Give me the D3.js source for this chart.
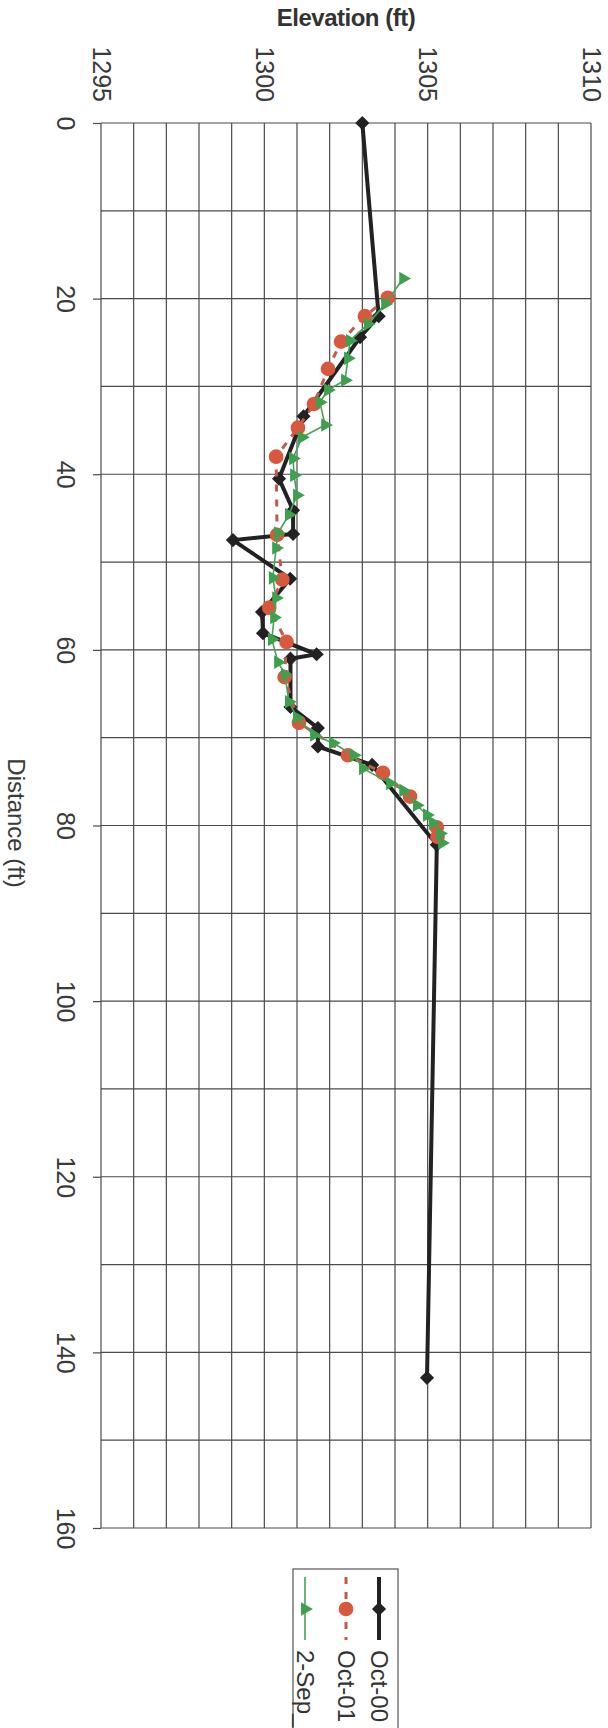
<!DOCTYPE html>
<html>
<head>
<meta charset="utf-8">
<script src="https://cdn.jsdelivr.net/npm/d3@7"></script>
<style>
  body { margin: 0; background: #fff; }
  svg { display: block; font-family: "Liberation Sans", Arial, sans-serif; }
</style>
</head>
<body>
<div id="chart"></div>
<script>
// series values (distance ft, elevation ft)
const dist00 = [0, 22, 24.4, 33.4, 40.5, 44.1, 46.8, 47.5, 51.9, 55.7, 58.1, 60.5, 61, 66.5, 68.9, 71, 73.1, 82.2, 142.9];
const elev00 = [1303.0, 1303.5, 1302.93, 1301.2, 1300.45, 1300.88, 1300.88, 1299.04, 1300.79, 1299.93, 1299.96, 1301.6, 1300.8, 1300.8, 1301.64, 1301.64, 1303.3, 1305.28, 1304.98];

const dist01 = [19.9, 22, 24.9, 28, 32, 34.7, 38, 46.9, 52, 55.2, 59.1, 63.1, 68.3, 72, 74, 76.7, 80.2, 81.3];
const elev01 = [1303.78, 1303.08, 1302.35, 1301.95, 1301.52, 1301.03, 1300.36, 1300.39, 1300.55, 1300.15, 1300.68, 1300.62, 1301.06, 1302.56, 1303.63, 1304.46, 1305.28, 1305.3];

const distSep = [17.7, 20.6, 22.9, 24.8, 26.8, 29.3, 30.4, 31.8, 34.4, 35.8, 38.2, 40.1, 42.4, 44.6, 46.7, 48.4, 51.8, 54.1, 56.3, 58.8, 61.4, 62.8, 65.9, 67.7, 69.7, 70.6, 72, 73.5, 75.2, 76, 77.7, 78.8, 79.7, 80.9, 82];
const elevSep = [1304.25, 1303.7, 1303.17, 1302.62, 1302.56, 1302.47, 1301.95, 1301.7, 1301.86, 1301.15, 1300.88, 1300.91, 1301.0, 1300.75, 1300.42, 1300.36, 1300.26, 1300.36, 1300.3, 1300.23, 1300.42, 1300.63, 1300.75, 1301.0, 1301.52, 1302.1, 1302.74, 1303.02, 1303.85, 1304.25, 1304.67, 1304.98, 1305.16, 1305.38, 1305.44];

const seriesNames = ['Oct-00', 'Oct-01', '2-Sep_'];
const distTicks = [0, 20, 40, 60, 80, 100, 120, 140, 160];
const elevTicks = [1295, 1300, 1305, 1310];

function drawChart() {
  const W = 608, H = 1728;
  const gridCol = '#4a4a4a';

  const svg = d3.select('#chart').append('svg')
    .attr('width', W)
    .attr('height', H);

  // chart is laid out as a normal excel chart, then turned 90 deg clockwise
  const g = svg.append('g')
    .attr('transform', `translate(${W},0) rotate(90)`);

  const x = d3.scaleLinear().domain([0, 160]).range([123, 1528]);
  const y = d3.scaleLinear().domain([1295, 1310]).range([507, 17]);

  // gridlines
  g.append('g').selectAll('line')
    .data(d3.range(0, 161, 10))
    .join('line')
    .attr('x1', d => x(d)).attr('x2', d => x(d))
    .attr('y1', y(1295)).attr('y2', y(1310))
    .attr('stroke', gridCol).attr('stroke-width', 1.2);

  g.append('g').selectAll('line')
    .data(d3.range(1295, 1311, 1))
    .join('line')
    .attr('x1', x(0)).attr('x2', x(160))
    .attr('y1', d => y(d)).attr('y2', d => y(d))
    .attr('stroke', gridCol).attr('stroke-width', 1.2);

  // axes
  const xAxis = g.append('g')
    .attr('transform', `translate(0,${y(1295)})`)
    .call(d3.axisBottom(x).tickValues(distTicks).tickSize(8).tickPadding(18));
  xAxis.select('.domain').remove();
  xAxis.selectAll('line').attr('stroke', gridCol).attr('stroke-width', 1.2);
  xAxis.selectAll('text').attr('font-size', 25).attr('fill', '#3a3a3a')
    .attr('font-family', '"Liberation Sans", Arial, sans-serif');

  const yAxis = g.append('g')
    .attr('transform', `translate(${x(0)},0)`)
    .call(d3.axisLeft(y).tickValues(elevTicks).tickFormat(d3.format('d')).tickSize(0).tickPadding(21));
  yAxis.select('.domain').remove();
  yAxis.selectAll('text').attr('font-size', 25).attr('fill', '#3a3a3a')
    .attr('font-family', '"Liberation Sans", Arial, sans-serif');

  g.append('text')
    .attr('x', 823).attr('y', 600)
    .attr('text-anchor', 'middle')
    .attr('font-size', 24).attr('fill', '#3a3a3a')
    .text('Distance (ft)');

  svg.append('text')
    .attr('x', 346).attr('y', 26)
    .attr('text-anchor', 'middle')
    .attr('font-size', 24).attr('font-weight', 'bold').attr('fill', '#333')
    .attr('letter-spacing', -0.5)
    .text('Elevation (ft)');

  const line = d3.line().x(d => x(d[0])).y(d => y(d[1]));

  const s00 = dist00.map((d, i) => [d, elev00[i]]);
  const s01 = dist01.map((d, i) => [d, elev01[i]]);
  const sSep = distSep.map((d, i) => [d, elevSep[i]]);

  const styles = [
    { data: s00, stroke: '#222', width: 4, dash: null, fill: '#222', sym: d3.symbolSquare, size: 100, rot: 45 },
    { data: s01, stroke: '#c25a4a', width: 3, dash: '7,8', fill: '#d8573f', sym: d3.symbolCircle, size: 170, rot: 0 },
    { data: sSep, stroke: '#46a356', width: 1.6, dash: null, fill: '#3ea04e', sym: d3.symbolTriangle, size: 80, rot: 0 }
  ];

  styles.forEach(s => {
    g.append('path')
      .datum(s.data)
      .attr('d', line)
      .attr('fill', 'none')
      .attr('stroke', s.stroke)
      .attr('stroke-width', s.width)
      .attr('stroke-dasharray', s.dash);

    g.append('g').selectAll('path')
      .data(s.data)
      .join('path')
      .attr('d', d3.symbol(s.sym, s.size))
      .attr('transform', d => `translate(${x(d[0])},${y(d[1])}) rotate(${s.rot})`)
      .attr('fill', s.fill);
  });

  // legend
  const lg = g.append('g');
  lg.append('rect')
    .attr('x', 1569).attr('y', 210)
    .attr('width', 200).attr('height', 105)
    .attr('fill', '#fff').attr('stroke', '#555').attr('stroke-width', 1.2);

  const legY = [229, 262, 303];
  styles.forEach((s, i) => {
    lg.append('line')
      .attr('x1', 1577).attr('x2', 1640)
      .attr('y1', legY[i]).attr('y2', legY[i])
      .attr('stroke', s.stroke).attr('stroke-width', s.width)
      .attr('stroke-dasharray', s.dash);
    lg.append('path')
      .attr('d', d3.symbol(s.sym, s.size))
      .attr('transform', `translate(1609,${legY[i]}) rotate(${s.rot})`)
      .attr('fill', s.fill);
    lg.append('text')
      .attr('x', 1650).attr('y', legY[i]).attr('dy', '0.35em')
      .attr('font-size', 24).attr('fill', '#333')
      .text(seriesNames[i]);
  });
}

window.onload = function () {
  drawChart();
};
</script>
</body>
</html>
